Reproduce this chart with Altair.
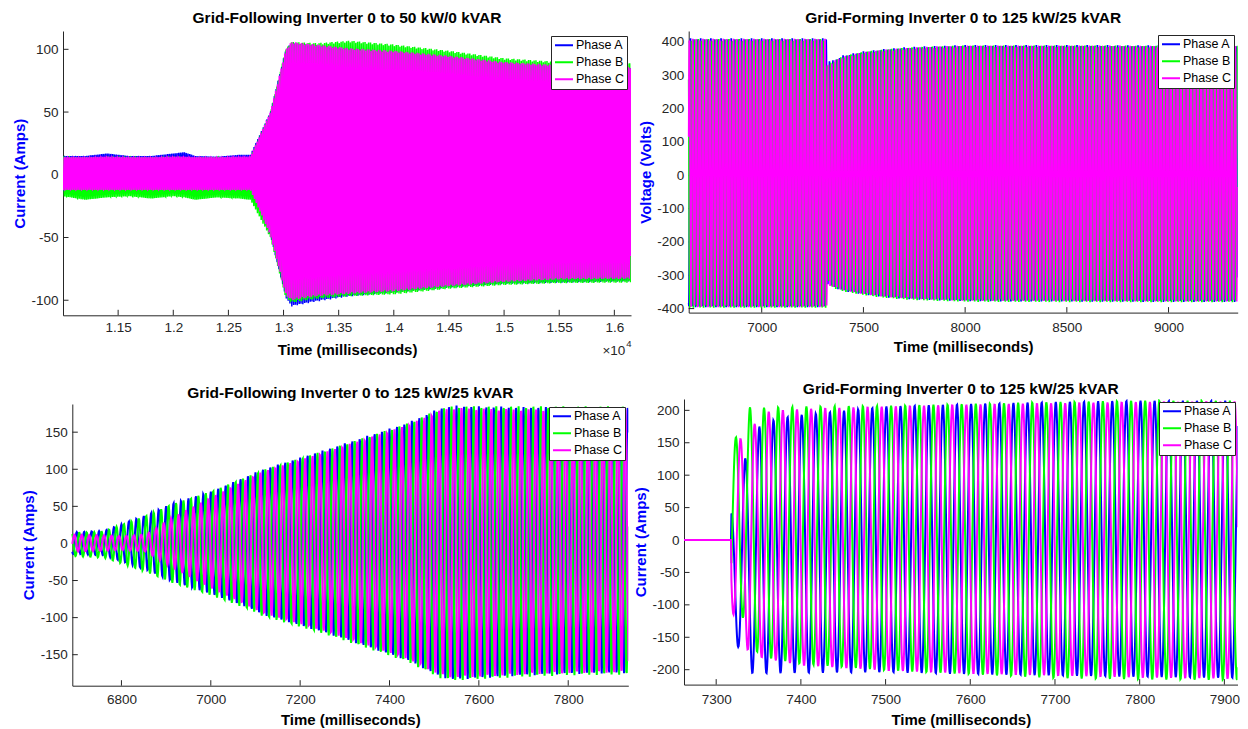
import numpy as np
import pandas as pd
import altair as alt

alt.data_transformers.disable_max_rows()

FONT = "Liberation Sans"
AXIS_GRAY = "#262626"
PHASES = ["Phase A", "Phase B", "Phase C"]
COLORS = ["#0000FF", "#00FF00", "#FF00FF"]
FREQ_HZ = 60.0
PERIOD_MS = 1000.0 / FREQ_HZ

# ---------------- Panel 1: Grid-Following 0 to 50 kW / 0 kVAR (current envelopes)
P1_KNOTS = [11000, 11200, 11400, 11600, 11800, 12000, 12100, 12200, 12400, 12600, 12700,
            12880, 13020, 13070, 13300, 13600, 14000, 14500, 15000, 15500, 16151]
P1_A_UP = [15, 15, 17, 15, 15, 17, 18, 15, 14.5, 16, 16, 50, 100, 105, 103, 100.5, 98, 94, 89, 86.5, 85]
P1_A_LO = [-13, -13, -13, -13, -13, -13, -13, -13, -13, -13, -13, -48, -98, -105, -101, -97, -94, -90, -87, -86, -85]
P1_B_UP = [14, 14, 14, 14, 14, 14, 14, 14, 14, 14, 14, 49, 100, 106, 105, 107, 104, 99, 93, 90, 89]
P1_B_LO = [-17, -20, -18, -17, -19, -17, -18, -20, -18, -19, -20, -50, -98, -102, -99, -97, -95.5, -91, -88, -86.5, -86]
P1_C_UP = [14, 14, 14.5, 14, 14, 14.5, 14.5, 14, 14, 14.5, 14.5, 50, 100, 106, 104, 101, 99, 95, 90, 87.5, 86]
P1_C_LO = [-12, -12, -12, -12, -12, -12, -12, -12, -12, -12, -12, -48, -96, -100, -97, -95, -93, -89, -85.5, -83.5, -83]

# ---------------- Panel 2: Grid-Forming voltage envelopes
P2_KNOTS = [6641, 7000, 7319, 7321, 7350, 7400, 7500, 7600, 7700, 7800, 8000, 8500, 9000, 9386]
P2_A_UP = [411, 411, 411, 345, 345, 360, 372, 379, 384, 387, 391, 391, 390, 390]
P2_A_LO = [-396, -396, -396, -325, -336, -347, -358, -366, -371, -374, -378, -379, -380, -380]
P2_B_UP = [409, 409, 409, 330, 343, 358, 371, 378, 383, 386, 390, 390, 389, 389]
P2_B_LO = [-398, -398, -398, -313, -338, -349, -360, -368, -373, -376, -380, -381, -381, -381]
P2_C_UP = [410, 410, 410, 330, 342, 357, 370, 377, 382, 386, 390, 390, 389, 389]
P2_C_LO = [-396, -396, -396, -328, -336, -346, -357, -365, -370, -373, -377, -378, -379, -379]

# ---------------- Panel 3: Grid-Following 0 to 125 kW / 25 kVAR current envelopes
P3_KNOTS = [6690, 6760, 6800, 6854, 6914, 7000, 7086, 7116, 7259, 7441, 7514, 7540, 7600, 7700, 7800, 7935]
P3_A_UP = [15, 17, 26, 38, 54, 70, 92, 100, 127, 163, 183, 186, 185, 184, 184, 184]
P3_A_LO = [-14, -16, -24, -35, -51, -68, -87, -96, -121, -158, -180, -184, -182, -178, -176, -175]
P3_B_UP = [14, 16, 25, 37, 53, 70, 91, 99, 126, 162, 182, 185, 185, 185, 185, 185]
P3_B_LO = [-17, -19, -27, -38, -53, -70, -89, -98, -123, -160, -182, -185, -183, -180, -178, -177]
P3_C_UP = [12, 11, 10, 12, 35, 62, 88, 97, 124, 160, 180, 183, 182, 181, 181, 181]
P3_C_LO = [-11, -10, -9, -11, -33, -60, -85, -94, -119, -156, -178, -181, -180, -177, -175, -174]

# ---------------- Panel 4: Grid-Forming 0 to 125 kW / 25 kVAR current (starts at 7318 ms)
P4_START = 7318.0
P4_A_PEAK = 7334.3
P4_A_UP_T = [7318, 7334, 7351, 7368, 7385, 7400, 7500, 7600, 7700, 7800, 7930]
P4_A_UP = [42, 125, 175, 185, 190, 193, 206, 210, 213, 215, 215]
P4_A_LO_T = [7318, 7326, 7343, 7400, 7500, 7600, 7700, 7800, 7930]
P4_A_LO = [-165, -165, -206, -205, -204, -207, -209, -211, -213]
P4_B_UP_T = [7318, 7323, 7340, 7357, 7400, 7500, 7600, 7700, 7800, 7930]
P4_B_UP = [150, 158, 205, 204, 206, 207, 210, 213, 215, 215]
P4_B_LO_T = [7318, 7332, 7349, 7365, 7400, 7500, 7600, 7700, 7800, 7930]
P4_B_LO = [-120, -120, -175, -183, -191, -201, -207, -213, -215, -216]
P4_C_UP_T = [7318, 7329, 7346, 7362, 7400, 7500, 7600, 7700, 7800, 7930]
P4_C_UP = [156, 156, 180, 198, 202, 206, 209, 211, 213, 214]
P4_C_LO_T = [7318, 7321, 7338, 7355, 7400, 7500, 7600, 7700, 7800, 7930]
P4_C_LO = [-115, -115, -172, -182, -193, -201, -206, -209, -212, -214]


def waveform(t, up_t, up, lo_t, lo, t_peak, start=None):
    u = np.interp(t, up_t, up)
    l = np.interp(t, lo_t, lo)
    v = (u + l) / 2 + (u - l) / 2 * np.cos(2 * np.pi * FREQ_HZ * (t - t_peak) / 1000.0)
    if start is not None:
        v = np.where(t < start, 0.0, v)
    return v


def build(t, specs, t_peak_a, start=None):
    frames = []
    for k, (name, (ut, u, lt, l)) in enumerate(zip(PHASES, specs)):
        v = waveform(t, ut, u, lt, l, t_peak_a + k * PERIOD_MS / 3.0, start)
        frames.append(pd.DataFrame({"t": np.round(t, 1), "v": np.round(v, 1), "phase": name}))
    return pd.concat(frames, ignore_index=True)


# plot-area widths/heights (px), left inset of the axis inside its cell (px), time windows (ms)
W1, H1, OFF1, X1 = 568, 284.3, 0.0, [11000, 16151]
W2, H2, OFF2, X2 = 549, 281.6, 4.7, [6641, 9340]
W3, H3, OFF3, X3 = 556, 281.7, 9.3, [6690, 7934.5]
W4, H4, OFF4, X4 = 553.5, 285.6, 0.0, [7262, 7915.5]

t1 = np.arange(X1[0], X1[1] + 1, 1.0)
df1 = build(t1, [(P1_KNOTS, P1_A_UP, P1_KNOTS, P1_A_LO),
                 (P1_KNOTS, P1_B_UP, P1_KNOTS, P1_B_LO),
                 (P1_KNOTS, P1_C_UP, P1_KNOTS, P1_C_LO)], 0.0)
t2 = np.arange(X2[0], X2[1] + 1, 1.0)
df2 = build(t2, [(P2_KNOTS, P2_A_UP, P2_KNOTS, P2_A_LO),
                 (P2_KNOTS, P2_B_UP, P2_KNOTS, P2_B_LO),
                 (P2_KNOTS, P2_C_UP, P2_KNOTS, P2_C_LO)], 0.0)
t3 = np.arange(X3[0], X3[1] + 1, 1.0)
df3 = build(t3, [(P3_KNOTS, P3_A_UP, P3_KNOTS, P3_A_LO),
                 (P3_KNOTS, P3_B_UP, P3_KNOTS, P3_B_LO),
                 (P3_KNOTS, P3_C_UP, P3_KNOTS, P3_C_LO)], 0.0)
t4 = np.arange(X4[0], X4[1] + 1, 0.5)
df4 = build(t4, [(P4_A_UP_T, P4_A_UP, P4_A_LO_T, P4_A_LO),
                 (P4_B_UP_T, P4_B_UP, P4_B_LO_T, P4_B_LO),
                 (P4_C_UP_T, P4_C_UP, P4_C_LO_T, P4_C_LO)], P4_A_PEAK, P4_START)

P1_XTICKS = [11500, 12000, 12500, 13000, 13500, 14000, 14500, 15000, 15500, 16000]
P1_YTICKS = [-100, -50, 0, 50, 100]
P2_XTICKS = [7000, 7500, 8000, 8500, 9000]
P2_YTICKS = [-400, -300, -200, -100, 0, 100, 200, 300, 400]
P3_XTICKS = [6800, 7000, 7200, 7400, 7600, 7800]
P3_YTICKS = [-150, -100, -50, 0, 50, 100, 150]
P4_XTICKS = [7300, 7400, 7500, 7600, 7700, 7800, 7900]
P4_YTICKS = [-200, -150, -100, -50, 0, 50, 100, 150, 200]


def one(v):
    return pd.DataFrame({"s": [v]})


def panel(df, *, width, height, xoff, xdom, ydom, xticks, yticks, title, ytitle,
          title_y, left_space, bottom_space, legend_offset, line_width,
          x_label_pad, x_title_pad, x_label_expr="'' + datum.value", extra=()):
    cell_w = width + xoff
    xs = alt.Scale(domain=xdom, nice=False, zero=False, range=[xoff, cell_w])
    ys = alt.Scale(domain=ydom, nice=False, zero=False)
    xax = alt.Axis(values=xticks, labelExpr=x_label_expr, title="Time (milliseconds)",
                   grid=False, ticks=False, tickSize=0, domainColor=AXIS_GRAY, domainWidth=1,
                   labelColor=AXIS_GRAY, labelFont=FONT, labelFontSize=13.5,
                   labelPadding=x_label_pad, labelFlush=False, labelOverlap=False,
                   minExtent=20, maxExtent=20, titleFont=FONT, titleFontSize=15,
                   titleFontWeight="bold", titleColor="#000000", titlePadding=x_title_pad,
                   titleX=xoff + width / 2)
    yax = alt.Axis(values=yticks, labelExpr="'' + datum.value", title=ytitle, offset=-xoff,
                   grid=False, ticks=False, tickSize=0, domainColor=AXIS_GRAY, domainWidth=1,
                   labelColor=AXIS_GRAY, labelFont=FONT, labelFontSize=13.5,
                   labelPadding=5, labelFlush=False, labelOverlap=False,
                   minExtent=32, maxExtent=32, titleFont=FONT, titleFontSize=15,
                   titleFontWeight="bold", titleColor="#0000FF", titlePadding=3.7)
    leg = alt.Legend(title=None, orient="top-right", offset=legend_offset,
                     fillColor="#FFFFFF", strokeColor=AXIS_GRAY, padding=3,
                     labelFont=FONT, labelFontSize=12.5, labelColor="#000000",
                     symbolType="stroke", symbolSize=324, symbolStrokeWidth=2,
                     clipHeight=12.5, rowPadding=4, labelOffset=2)
    lines = alt.Chart(df).mark_line(strokeWidth=line_width, clip=True).encode(
        x=alt.X("t:Q", scale=xs, axis=xax),
        y=alt.Y("v:Q", scale=ys, axis=yax),
        color=alt.Color("phase:N", scale=alt.Scale(domain=PHASES, range=COLORS), legend=leg),
    )
    ytick = alt.Chart(pd.DataFrame({"v": yticks})).mark_rule(color=AXIS_GRAY, strokeWidth=1).encode(
        y=alt.Y("v:Q", scale=ys, axis=yax), x=alt.value(xoff), x2=alt.value(xoff + 5.5))
    xtick = alt.Chart(pd.DataFrame({"t": xticks})).mark_rule(color=AXIS_GRAY, strokeWidth=1).encode(
        x=alt.X("t:Q", scale=xs, axis=xax), y=alt.value(height), y2=alt.value(height - 5.5))
    spacer = alt.Chart(one(0)).mark_rule(opacity=0).encode(
        x=alt.value(-left_space), y=alt.value(0), y2=alt.value(bottom_space))
    head = alt.Chart(one(0)).mark_text(align="center", baseline="alphabetic", font=FONT,
                                        fontSize=15.5, fontWeight="bold", color="#000000").encode(
        x=alt.value(xoff + width / 2), y=alt.value(title_y), text=alt.value(title))
    return alt.layer(xtick, ytick, lines, spacer, head, *extra).properties(
        width=cell_w, height=height)


x10 = alt.Chart(one(0)).mark_text(align="right", baseline="top", font=FONT, fontSize=13.5,
                                   color=AXIS_GRAY).encode(
    x=alt.value(W1 - 5.7), y=alt.value(H1 + 28.7), text=alt.value("×10"))
x10e = alt.Chart(one(0)).mark_text(align="left", baseline="top", font=FONT, fontSize=9.5,
                                    color=AXIS_GRAY).encode(
    x=alt.value(W1 - 4.7), y=alt.value(H1 + 23.8), text=alt.value("4"))

p1 = panel(df1, width=W1, height=H1, xoff=OFF1, xdom=X1, ydom=[-112, 114.6],
           xticks=P1_XTICKS, yticks=P1_YTICKS,
           title="Grid-Following Inverter 0 to 50 kW/0 kVAR", ytitle="Current (Amps)",
           title_y=-7.7, left_space=54.7, bottom_space=353.5, legend_offset=4.5,
           line_width=1.5, x_label_pad=5.4, x_title_pad=7,
           x_label_expr="'' + datum.value / 10000", extra=(x10, x10e))

p2 = panel(df2, width=W2, height=H2, xoff=OFF2, xdom=X2, ydom=[-412, 433],
           xticks=P2_XTICKS, yticks=P2_YTICKS,
           title="Grid-Forming Inverter 0 to 125 kW/25 kVAR", ytitle="Voltage (Volts)",
           title_y=-7.7, left_space=52, bottom_space=349.5, legend_offset=4,
           line_width=1.7, x_label_pad=8, x_title_pad=6.4)

p3 = panel(df3, width=W3, height=H3, xoff=OFF3, xdom=X3, ydom=[-191.8, 188],
           xticks=P3_XTICKS, yticks=P3_YTICKS,
           title="Grid-Following Inverter 0 to 125 kW/25 kVAR", ytitle="Current (Amps)",
           title_y=-6.3, left_space=54.7, bottom_space=H3, legend_offset=3,
           line_width=2, x_label_pad=7, x_title_pad=7)

p4 = panel(df4, width=W4, height=H4, xoff=OFF4, xdom=X4, ydom=[-223, 217.5],
           xticks=P4_XTICKS, yticks=P4_YTICKS,
           title="Grid-Forming Inverter 0 to 125 kW/25 kVAR", ytitle="Current (Amps)",
           title_y=-5.4, left_space=52, bottom_space=H4, legend_offset=3,
           line_width=2, x_label_pad=7.7, x_title_pad=7.7)

col1 = alt.vconcat(p1, p3, spacing=0).resolve_scale(color="independent")
col2 = alt.vconcat(p2, p4, spacing=0).resolve_scale(color="independent")
chart = alt.hconcat(col1, col2, spacing=0).resolve_scale(color="independent").properties(
    padding={"left": 0, "top": 3, "right": 0, "bottom": 0}
).configure(background="#FFFFFF").configure_view(stroke=None)

chart.save("out.html", embed_options={"renderer": "svg", "actions": False})
